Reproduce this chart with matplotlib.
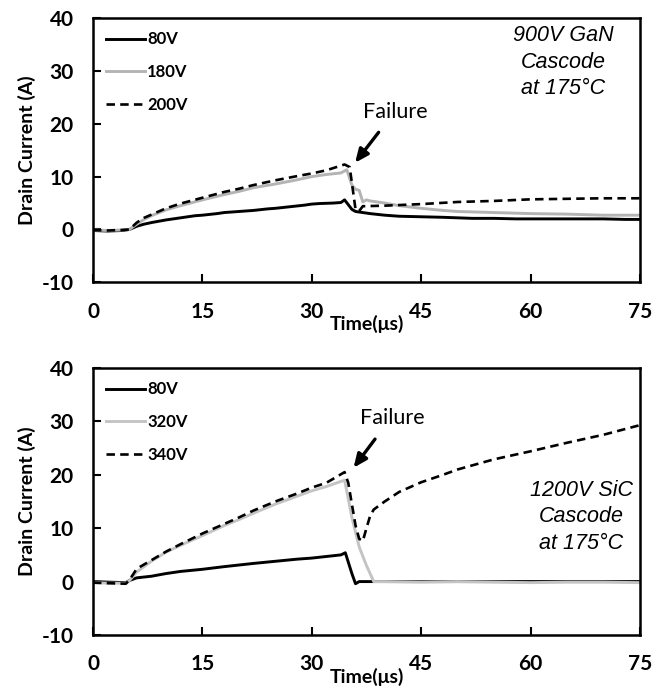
import matplotlib.pyplot as plt

plt.rcParams["axes.unicode_minus"] = False

# ---- top panel: 900V GaN cascode ----
gan_t_80 = [0, 2, 4, 5, 6, 7, 8, 10, 12, 14, 15, 17, 18, 20, 22, 24, 25, 27, 29, 30, 31, 33, 34, 34.5,
            35.5, 36, 37, 38, 40, 42, 45, 48, 50, 52, 55, 58, 60, 63, 65, 68, 70, 73, 75]
gan_i_80 = [-0.2, -0.3, -0.2, 0.0, 0.6, 1.0, 1.3, 1.8, 2.2, 2.6, 2.7, 3.0, 3.2, 3.4, 3.6, 3.9, 4.0, 4.3, 4.6, 4.8,
            4.9, 5.0, 5.1, 5.6, 3.8, 3.4, 3.2, 3.0, 2.7, 2.5, 2.4, 2.3, 2.2, 2.1, 2.1, 2.0, 2.0, 2.0, 2.0, 2.0, 2.0, 1.9, 1.9]

gan_t_180 = [0, 2, 4, 5, 6, 7, 8, 10, 12, 15, 18, 20, 22, 25, 28, 30, 32, 34, 34.8,
             35.5, 36, 36.5, 37, 37.5, 38, 40, 42, 45, 48, 50, 55, 60, 65, 70, 75]
gan_i_180 = [-0.1, -0.2, -0.1, 0.0, 1.0, 1.9, 2.6, 3.7, 4.5, 5.6, 6.6, 7.2, 7.9, 8.6, 9.4, 10.0, 10.4, 10.7, 11.3,
             8.4, 7.6, 7.4, 5.2, 5.6, 5.4, 5.0, 4.5, 4.0, 3.6, 3.4, 3.2, 3.0, 2.9, 2.7, 2.7]

gan_t_200 = [0, 2, 4, 5, 6, 7, 8, 10, 12, 15, 18, 20, 22, 25, 28, 30, 32, 34.5,
             35.2, 36, 36.5, 37, 40, 45, 50, 55, 60, 65, 70, 75]
gan_i_200 = [-0.1, -0.2, -0.1, 0.0, 1.3, 2.2, 2.8, 4.0, 4.9, 6.0, 7.1, 7.7, 8.4, 9.3, 10.1, 10.6, 11.2, 12.3,
             11.8, 3.8, 3.5, 4.4, 4.5, 4.8, 5.2, 5.4, 5.7, 5.8, 5.9, 5.9]

# ---- bottom panel: 1200V SiC cascode ----
sic_t_80 = [0, 2, 4.5, 5, 6, 8, 10, 12, 15, 18, 20, 22, 25, 28, 30, 32, 34, 34.6, 35.5, 36, 36.5, 38, 40, 50, 60, 70, 75]
sic_i_80 = [0.0, -0.1, -0.2, 0.2, 0.7, 1.0, 1.5, 1.9, 2.3, 2.8, 3.1, 3.4, 3.8, 4.2, 4.4, 4.7, 5.0, 5.4, 1.5, -0.4, 0.0,
            0.0, 0.0, 0.0, 0.0, 0.0, 0.0]

sic_t_320 = [0, 2, 4.5, 5, 6, 8, 10, 12, 15, 18, 20, 22, 25, 28, 30, 32, 34.5, 35.5, 36.5, 37.5, 38.5,
             40, 45, 50, 55, 60, 65, 70, 75]
sic_i_320 = [-0.2, -0.3, -0.3, 0.2, 1.8, 3.8, 5.5, 6.8, 8.6, 10.5, 11.6, 12.8, 14.5, 16.0, 17.0, 17.8, 19.0, 12.0,
             6.5, 3.0, 0.0, 0.0, -0.1, 0.0, -0.1, -0.2, -0.1, -0.1, -0.2]

sic_t_340 = [0, 2, 4.5, 5, 6, 8, 10, 12, 15, 18, 20, 22, 25, 28, 30, 32, 34.5, 35, 36, 36.5, 37, 37.5, 38, 38.5,
             40, 42, 45, 48, 50, 55, 60, 65, 70, 75]
sic_i_340 = [-0.2, -0.3, -0.4, 0.3, 2.4, 4.0, 5.6, 7.0, 9.0, 10.8, 12.0, 13.3, 15.0, 16.5, 17.6, 18.5, 20.5, 18.5,
             10.5, 8.0, 7.6, 10.0, 12.3, 13.5, 15.0, 16.8, 18.6, 20.0, 21.0, 22.9, 24.4, 26.0, 27.5, 29.3]

x_ticks = [0, 15, 30, 45, 60, 75]
y_ticks = [-10, 0, 10, 20, 30, 40]

fig = plt.figure(figsize=(6.55, 6.97), dpi=100)
ax_top = fig.add_axes([0.142, 0.595, 0.835, 0.379])
ax_bot = fig.add_axes([0.142, 0.089, 0.835, 0.383])

panels = [
    (ax_top, [(gan_t_80, gan_i_80, "80V"), (gan_t_180, gan_i_180, "180V"), (gan_t_200, gan_i_200, "200V")],
     "900V GaN\nCascode\nat 175\u00b0C", (0.86, 0.833), (41.4, 22.2), (39.4, 18.8), (35.7, 12.2), "#b4b4b4"),
    (ax_bot, [(sic_t_80, sic_i_80, "80V"), (sic_t_320, sic_i_320, "320V"), (sic_t_340, sic_i_340, "340V")],
     "1200V SiC\nCascode\nat 175\u00b0C", (0.893, 0.442), (41.1, 30.6), (38.9, 27.1), (35.5, 20.9), "#c4c4c4"),
]

for ax, series, note, note_pos, fail_txt, fail_tail, fail_tip, gray in panels:
    (t1, i1, l1), (t2, i2, l2), (t3, i3, l3) = series
    ax.plot(t1, i1, color="black", lw=2.1, label=l1)
    ax.plot(t2, i2, color=gray, lw=2.1, label=l2)
    ax.plot(t3, i3, color="black", lw=1.9, ls=(0, (3.2, 2.0)), label=l3)

    ax.set_xlim(0, 75)
    ax.set_ylim(-10, 40)
    ax.set_xticks(x_ticks)
    ax.set_yticks(y_ticks)
    ax.tick_params(direction="in", length=6, width=1.5, labelsize=15)
    ax.tick_params(axis="x", pad=14)
    ax.tick_params(axis="y", pad=14)
    for lab in ax.get_xticklabels() + ax.get_yticklabels():
        lab.set_fontfamily("Lato")
        lab.set_fontweight("bold")
    for sp in ax.spines.values():
        sp.set_linewidth(1.8)

    ax.set_xlabel("Time(\u03bcs)", fontsize=14, fontweight="bold", family="Lato", labelpad=-5)
    ax.set_ylabel("Drain Current (A)", fontsize=14, fontweight="bold", family="Lato", labelpad=4)

    ax.legend(loc="upper left", frameon=False, handlelength=2.3, handletextpad=0.15,
              labelspacing=1.0, borderaxespad=0.5, borderpad=0.3,
              prop={"family": "Lato", "weight": "bold", "size": 12})

    ax.text(note_pos[0], note_pos[1], note, transform=ax.transAxes, ha="center", va="center",
            fontsize=15.5, style="italic", family="Liberation Sans", linespacing=1.35)

    ax.text(fail_txt[0], fail_txt[1], "Failure", ha="center", va="center", fontsize=15.5, family="Lato")
    ax.annotate("", xy=fail_tip, xytext=fail_tail,
                arrowprops=dict(arrowstyle="-|>,head_length=0.8,head_width=0.35", color="black", lw=2.4))

fig.savefig("out.png", dpi=100)
